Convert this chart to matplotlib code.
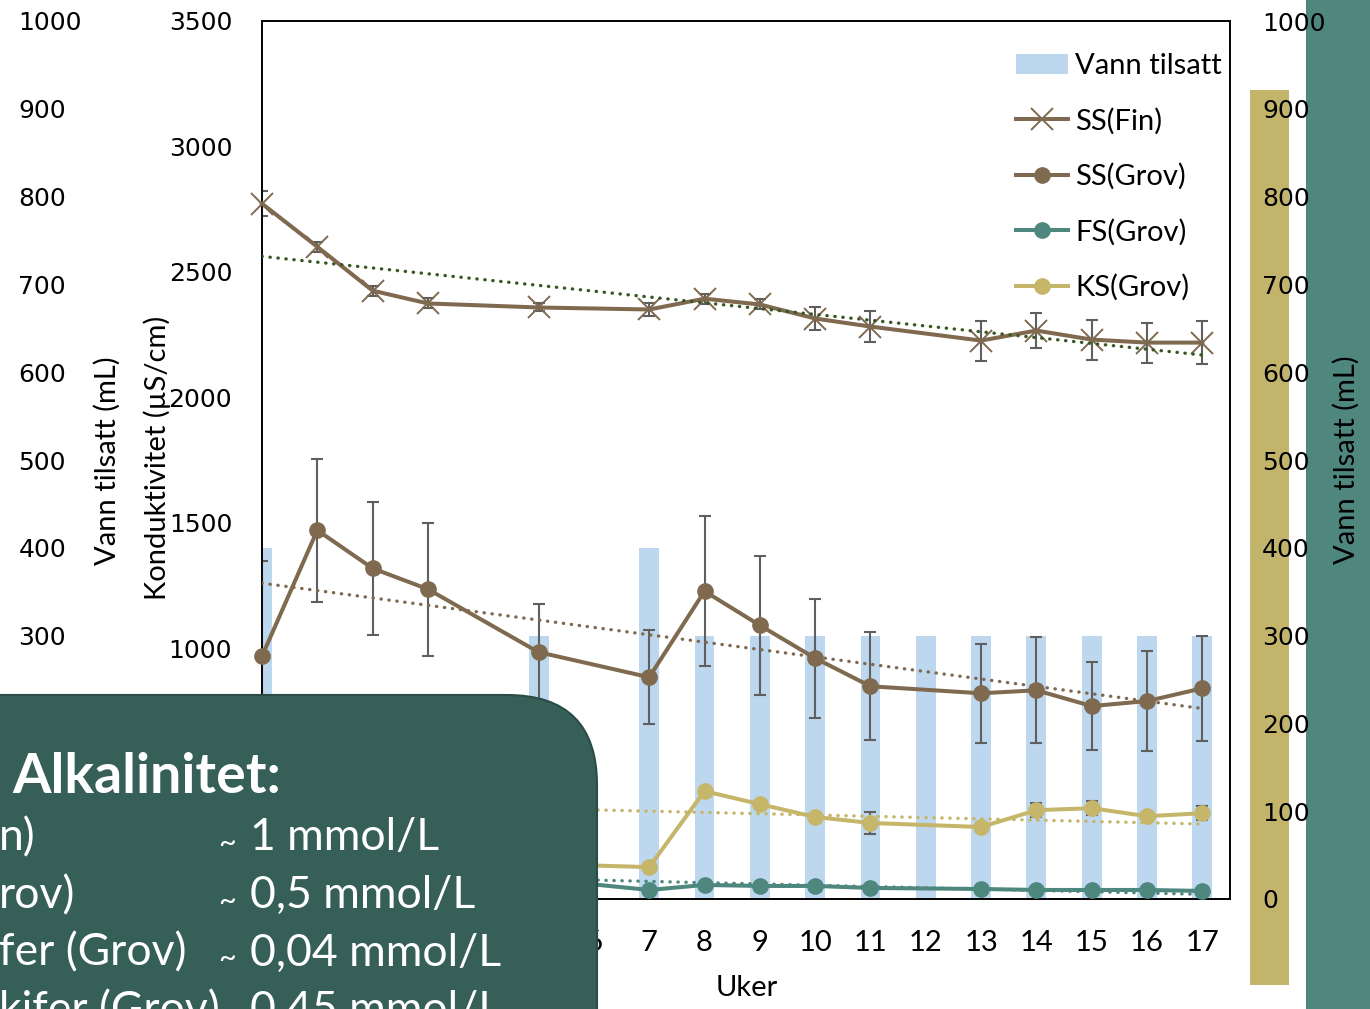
import numpy as np
import matplotlib
matplotlib.use("Agg")
import matplotlib.pyplot as plt
from matplotlib.lines import Line2D
from matplotlib.patches import Patch, Rectangle, FancyBboxPatch

# weekly conductivity measurements (µS/cm)
weeks = [0, 1, 2, 3, 5, 7, 8, 9, 10, 11, 13, 14, 15, 16, 17]
ss_fin = [2772, 2600, 2425, 2374, 2358, 2350, 2393, 2370, 2314, 2282, 2226, 2266, 2230, 2218, 2218]
ss_fin_err = [50, 20, 20, 20, 16, 24, 20, 20, 45, 60, 80, 68, 80, 80, 85]
ss_grov = [968, 1470, 1318, 1235, 984, 884, 1227, 1091, 960, 848, 820, 832, 769, 789, 840]
ss_grov_err = [378, 285, 265, 265, 190, 187, 300, 277, 237, 215, 197, 211, 175, 199, 210]
fs_grov = [160, 110, 80, 70, 80, 36, 56, 52, 52, 44, 40, 36, 36, 36, 32]
ks_grov = [560, 480, 390, 310, 140, 127, 430, 378, 327, 303, 287, 354, 362, 330, 342]
ks_grov_err = [0, 0, 0, 0, 0, 0, 0, 0, 0, 44, 0, 28, 28, 0, 28]

# water added (mL)
water_weeks = [0, 5, 7, 8, 9, 10, 11, 12, 13, 14, 15, 16, 17]
water_ml = [400, 300, 400, 300, 300, 300, 300, 300, 300, 300, 300, 300, 300]

week_ticks = list(range(18))
week_labels = [""] * 6 + [str(w) for w in range(6, 18)]
cond_ticks = list(range(1000, 3501, 500))
water_ticks = list(range(0, 1001, 100))
water_ticks_left = list(range(300, 1001, 100))

alk_names = ["n)", "rov)", "fer (Grov)", "kifer (Grov)"]
alk_values = ["1 mmol/L", "0,5 mmol/L", "0,04 mmol/L", "0,45 mmol/L"]

BROWN = "#7F6A50"
TEAL = "#4D877D"
TAN = "#C5B66A"
BLUE = "#BDD7EE"
GREY = "#5F5F5F"
TREND_GREEN = "#385723"

W, H = 1370, 1009
TXT = "Lato"


def fx(px):
    return px / W


def fy(py):
    return 1 - py / H


fig = plt.figure(figsize=(W / 100, H / 100), dpi=100)
rect = [fx(262), fy(899), (1230 - 262) / W, (899 - 21) / H]

# decorative background blocks on the right
bg = fig.add_axes([0, 0, 1, 1], zorder=-5)
bg.set_xlim(0, W)
bg.set_ylim(H, 0)
bg.axis("off")
bg.add_patch(Rectangle((1250, 90), 39, 895, color="#C3B46C", lw=0))
bg.add_patch(Rectangle((1306, -5), 70, H + 10, color="#4F877F", lw=0))

ax = fig.add_axes(rect)
ax_w = ax.twinx()
ax.set_zorder(ax_w.get_zorder() + 1)
ax.patch.set_visible(False)

# bars on the secondary axis
ax_w.bar(water_weeks, water_ml, width=0.36, color=BLUE, zorder=1)
ax_w.set_ylim(0, 1000)
ax_w.set_yticks(water_ticks)
ax_w.tick_params(axis="y", length=0, pad=23, labelsize=18)

ax.set_xlim(0, 17.5)
ax.set_ylim(0, 3500)
ax.set_yticks(cond_ticks)
ax.set_xticks(week_ticks, week_labels)
ax.tick_params(axis="y", length=0, pad=21.5, labelsize=18)
ax.tick_params(axis="x", length=0, pad=22)
for lab in ax.get_xticklabels():
    lab.set_fontfamily(TXT)
    lab.set_fontsize(21)
for side in ["left", "right", "top", "bottom"]:
    ax.spines[side].set_linewidth(1.2)
    ax_w.spines[side].set_linewidth(1.2)

eb = dict(fmt="none", ecolor=GREY, elinewidth=1.5, capsize=4.5, capthick=1.5, zorder=2)
ax.errorbar(weeks, ss_fin, yerr=ss_fin_err, **eb)
ax.errorbar(weeks, ss_grov, yerr=ss_grov_err, **eb)
ax.errorbar(weeks, ks_grov, yerr=ks_grov_err, **eb)

series = [
    (ss_fin, BROWN, "x", TREND_GREEN),
    (ss_grov, BROWN, "o", BROWN),
    (fs_grov, TEAL, "o", TEAL),
    (ks_grov, TAN, "o", TAN),
]
x_fit = np.array([0, 17])
for vals, col, mk, tcol in series:
    if mk == "x":
        ax.plot(weeks, vals, color=col, lw=2.9, marker="x", ms=16, mew=1.4,
                zorder=3, clip_on=False)
    else:
        ax.plot(weeks, vals, color=col, lw=2.9, marker="o", ms=11,
                zorder=3, clip_on=False)
    k, m = np.polyfit(weeks, vals, 1)
    ax.plot(x_fit, k * x_fit + m, color=tcol, lw=2.4, linestyle=(0, (0.1, 2.3)),
            dash_capstyle="round", zorder=4)

handles = [
    Patch(facecolor=BLUE, edgecolor="none", label="Vann tilsatt"),
    Line2D([], [], color=BROWN, lw=2.9, marker="x", ms=16, mew=1.4, label="SS(Fin)"),
    Line2D([], [], color=BROWN, lw=2.9, marker="o", ms=11, label="SS(Grov)"),
    Line2D([], [], color=TEAL, lw=2.9, marker="o", ms=11, label="FS(Grov)"),
    Line2D([], [], color=TAN, lw=2.9, marker="o", ms=11, label="KS(Grov)"),
]
ax.legend(handles=handles, loc="upper left", bbox_to_anchor=(fx(1016), fy(53)),
          bbox_transform=fig.transFigure, frameon=False, borderpad=0,
          borderaxespad=0, handlelength=1.78, handletextpad=0.25,
          labelspacing=0.98, prop={"family": TXT, "size": 21})

# second water axis repeated on the far left
ax_l = fig.add_axes(rect)
ax_l.set_ylim(0, 1000)
ax_l.set_yticks(water_ticks_left)
ax_l.set_xticks([])
ax_l.patch.set_visible(False)
for s in ax_l.spines.values():
    s.set_visible(False)
ax_l.tick_params(axis="y", length=0, pad=175.5, labelsize=18)
for lab in ax_l.get_yticklabels():
    lab.set_ha("left")

fig.text(fx(157), fy(458), "Konduktivitet (µS/cm)", rotation=90, ha="center",
         va="center", family=TXT, fontsize=21)
fig.text(fx(107), fy(461), "Vann tilsatt (mL)", rotation=90, ha="center",
         va="center", family=TXT, fontsize=21)
fig.text(fx(1346), fy(460), "Vann tilsatt (mL)", rotation=90, ha="center",
         va="center", family=TXT, fontsize=21)
fig.text(fx(747), fy(988), "Uker", ha="center", va="center", family=TXT, fontsize=21)

# alkalinity callout
fg = fig.add_axes([0, 0, 1, 1], zorder=20)
fg.set_xlim(0, W)
fg.set_ylim(H, 0)
fg.axis("off")
fg.patch.set_visible(False)
fg.add_patch(FancyBboxPatch((-200, 695), 797, 600,
                            boxstyle="round,pad=0,rounding_size=90",
                            facecolor="#365F58", edgecolor="#2B4C46", lw=1.5))
fg.text(12, 777, "Alkalinitet:", color="white", fontsize=40, fontweight="bold",
        family=TXT, ha="left", va="center")
for i, (name, val) in enumerate(zip(alk_names, alk_values)):
    yy = 838 + i * 57.5
    fg.text(-1, yy, name, color="white", fontsize=32, family=TXT, ha="left", va="center")
    fg.text(218, yy + 5, "~", color="white", fontsize=22, family=TXT, ha="left", va="center")
    fg.text(250, yy, val, color="white", fontsize=32, family=TXT, ha="left", va="center")

fig.savefig("out.png", dpi=100)
